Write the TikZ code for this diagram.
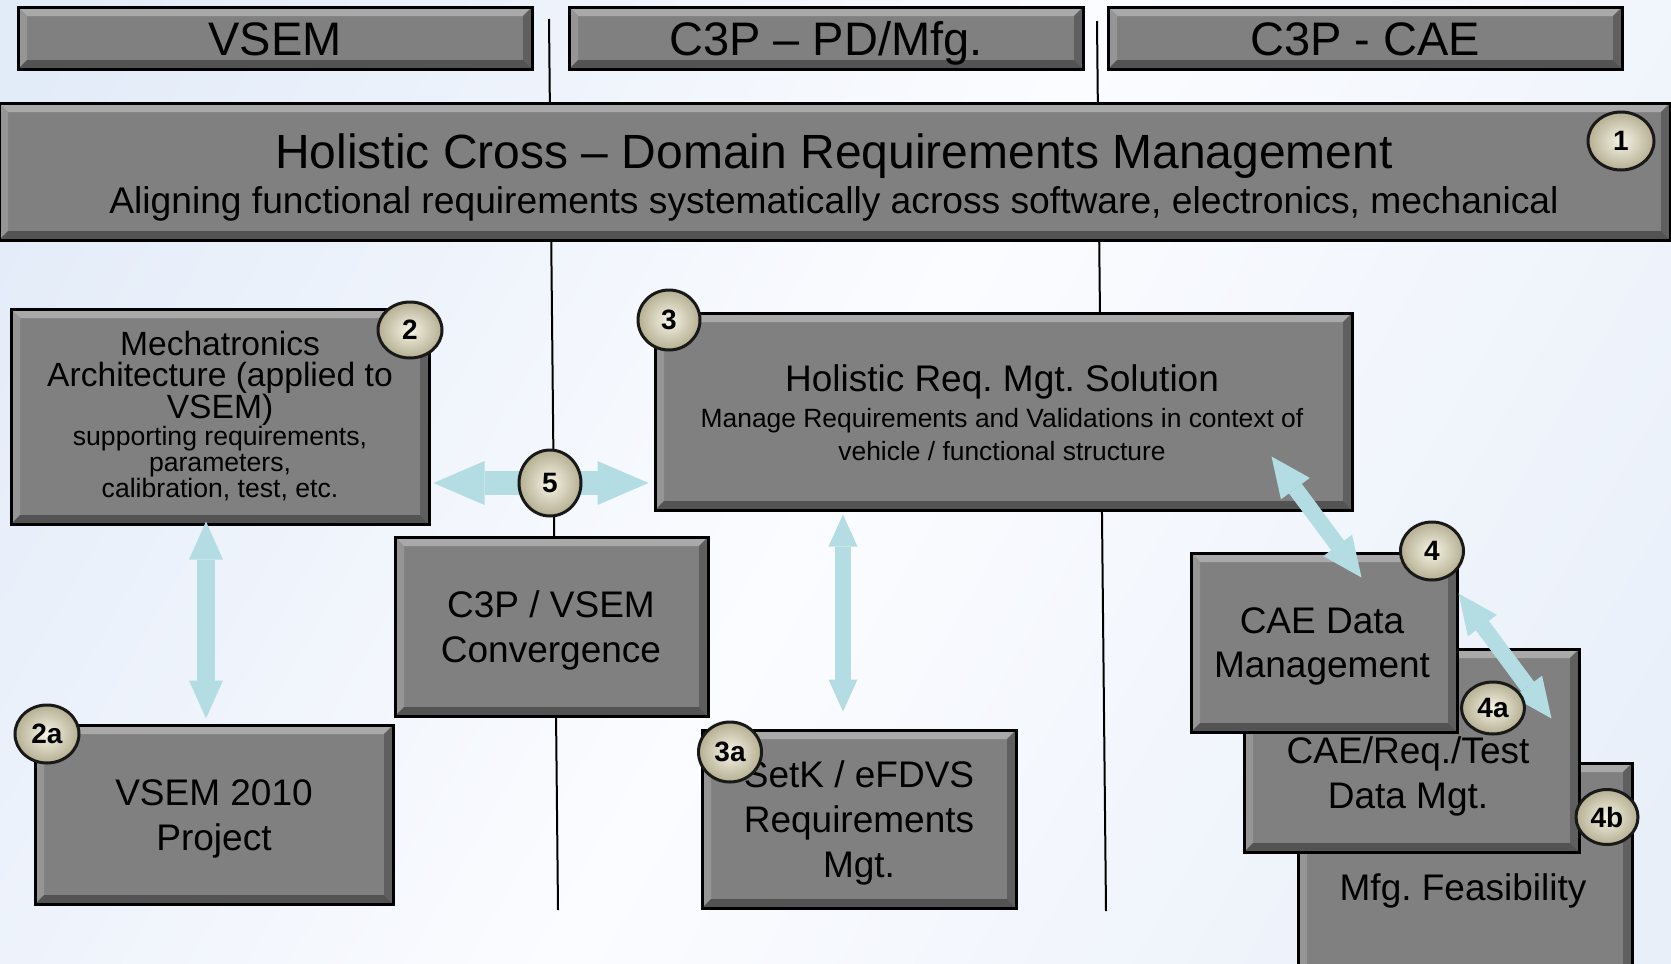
\documentclass[tikz,border=0pt]{standalone}
\usepackage{fontspec}
\setmainfont{Liberation Sans}
\usetikzlibrary{arrows.meta,calc,shapes.geometric}

\definecolor{face}{HTML}{808080}
\definecolor{bevtop}{HTML}{A9A9A9}
\definecolor{bevleft}{HTML}{959595}
\definecolor{bevright}{HTML}{5F5F5F}
\definecolor{bevbot}{HTML}{535353}
\definecolor{arrowc}{HTML}{B3DDE2}
\definecolor{ballin}{HTML}{F6F4E6}
\definecolor{ballout}{HTML}{B5AF92}
\definecolor{bgA}{HTML}{E2EBF8}
\definecolor{bgB}{HTML}{FBFCFF}
\definecolor{bgC}{HTML}{E8EFF9}

\newcommand\bevw{4.5pt}
\newcommand\fsz[2]{\fontsize{#1}{#2}\selectfont}

\tikzset{
  panel/.style={rectangle, draw=black, line width=1.5pt, fill=face, inner sep=0pt,
    path picture={
      \coordinate (pSW) at (path picture bounding box.south west);
      \coordinate (pNE) at (path picture bounding box.north east);
      \coordinate (pNW) at (pSW |- pNE);
      \coordinate (pSE) at (pNE |- pSW);
      \fill[bevtop] (pNW) -- (pNE) -- ($(pNE)+(-\bevw,-\bevw)$) -- ($(pNW)+(\bevw,-\bevw)$) -- cycle;
      \fill[bevleft] (pNW) -- (pSW) -- ($(pSW)+(\bevw,\bevw)$) -- ($(pNW)+(\bevw,-\bevw)$) -- cycle;
      \fill[bevright] (pNE) -- (pSE) -- ($(pSE)+(-\bevw,\bevw)$) -- ($(pNE)+(-\bevw,-\bevw)$) -- cycle;
      \fill[bevbot] (pSW) -- (pSE) -- ($(pSE)+(-\bevw,\bevw)$) -- ($(pSW)+(\bevw,\bevw)$) -- cycle;
    }},
  ball/.style={ellipse, draw=black!90, line width=1.5pt, inner sep=0pt,
    inner color=ballin, outer color=ballout, font=\bfseries\fsz{14pt}{14pt}},
  % multi-line texts sit on the baseline of their last line
  txt/.style={anchor=base, inner sep=0pt, align=center},
  divider/.style={draw=black, line width=1pt},
  fat/.style n args={3}{draw=arrowc, line width=#1,
    {Triangle[width=#2,length=#3,line width=0pt]}-{Triangle[width=#2,length=#3,line width=0pt]}},
}

\begin{document}
\frenchspacing
\begin{tikzpicture}[x=0.5pt, y=-0.5pt]
  \useasboundingbox (0,0) rectangle (1671,964);
  \clip (0,0) rectangle (1671,964);
  \shade[left color=bgA, right color=bgC, middle color=bgB, shading angle=60]
    (-200,-200) rectangle (1871,1164);

  % swimlane dividers
  \coordinate (l1top) at (549,19);
  \coordinate (l1bot) at (558,910);
  \coordinate (l2top) at (1097,21);
  \coordinate (l2bot) at (1106,911);
  \draw[divider] (l1top) -- (l1bot);
  \draw[divider] (l2top) -- (l2bot);

  % lane headers
  \node[panel, minimum width=257pt, minimum height=31pt] (hVSEM) at (275,38) {};
  \node[panel, minimum width=257pt, minimum height=31pt] (hPD) at (826,38) {};
  \node[panel, minimum width=257pt, minimum height=31pt] (hCAE) at (1365,38) {};
  \node[txt, font=\fsz{23.5pt}{28pt}] (tVSEM) at (275,55) {VSEM};
  \node[txt, font=\fsz{23.5pt}{28pt}] (tPD) at (826,55) {C3P – PD/Mfg.};
  \node[txt, font=\fsz{23.5pt}{28pt}] (tCAE) at (1365,55) {C3P - CAE};

  % banner
  \node[panel, minimum width=835.5pt, minimum height=68.5pt] (banner) at (834.5,171.5) {};
  \node[txt, font=\fsz{24pt}{28pt}] (bTitle) at (834,168) {Holistic Cross – Domain Requirements Management};
  \node[txt, font=\fsz{18.6pt}{22pt}] (bSub) at (834,213) {Aligning functional requirements systematically across software, electronics, mechanical};

  % main boxes
  \node[panel, minimum width=209pt, minimum height=107.5pt] (box2) at (220,416.5) {};
  \node[panel, minimum width=348.5pt, minimum height=98.5pt] (box3) at (1003.5,411.5) {};
  \node[panel, minimum width=156.5pt, minimum height=89.5pt] (conv) at (551.5,626.5) {};
  \node[panel, minimum width=179pt, minimum height=89.5pt] (box2a) at (214,814.5) {};
  \node[panel, minimum width=157pt, minimum height=89pt] (setk) at (859,819) {};
  \node[panel, minimum width=167pt, minimum height=108.5pt] (mfg) at (1465,871.5) {};
  \node[panel, minimum width=167.5pt, minimum height=101.5pt] (caereq) at (1411.5,750.5) {};
  \node[panel, minimum width=133pt, minimum height=89.5pt] (cae) at (1324,642.5) {};

  % box texts
  \node[txt, font=\fsz{16.8pt}{15.75pt}] (t2a) at (220,418) {Mechatronics\\Architecture (applied to\\VSEM)};
  \node[txt, font=\fsz{13.3pt}{13pt}] (t2b) at (220,497) {supporting requirements,\\parameters,\\calibration, test, etc.};
  \node[txt, font=\fsz{18.5pt}{22pt}] (t3a) at (1002,391) {Holistic Req. Mgt. Solution};
  \node[txt, font=\fsz{13.2pt}{16.5pt}] (t3b) at (1002,460) {Manage Requirements and Validations in context of\\vehicle / functional structure};
  \node[txt, font=\fsz{18.5pt}{22.5pt}] (tconv) at (551,662) {C3P / VSEM\\Convergence};
  \node[txt, font=\fsz{18.5pt}{22.5pt}] (t2aa) at (214,850) {VSEM 2010\\Project};
  \node[txt, font=\fsz{18.5pt}{22.5pt}] (tsetk) at (859,877) {SetK / eFDVS\\Requirements\\Mgt.};
  \node[txt, font=\fsz{18.5pt}{22.5pt}] (tmfg) at (1463,900) {Mfg. Feasibility};
  \node[txt, font=\fsz{18.5pt}{22.5pt}] (tcaereq) at (1408,808) {CAE/Req./Test\\Data Mgt.};
  \node[txt, font=\fsz{18.5pt}{22pt}] (tcae) at (1322,677) {CAE Data\\Management};

  % connecting arrows
  \coordinate (c5pos) at (550,483);
  \draw[fat={12pt}{22pt}{25.5pt}, shorten <=1.5pt, shorten >=2.5pt] (box2.east |- c5pos) -- (box3.west |- c5pos);
  \draw[fat={9pt}{17pt}{19pt}, shorten <=-2pt, shorten >=2.5pt] ([xshift=-7pt]box2.south) -- ([xshift=-4pt]box2a.north);
  \draw[fat={8pt}{14.5pt}{16pt}, shorten <=1.5pt, shorten >=8.5pt] ([xshift=-80.25pt]box3.south) -- ([xshift=-8pt]setk.north);
  \draw[fat={8pt}{18pt}{20pt}] ($(box3.south east)+(-82,-55)$) -- ($(cae.north west)+(172,26)$);
  \draw[fat={8pt}{18pt}{20pt}] ($(cae.north east)+(0,42)$) -- ($(caereq.north east)+(-29,71)$);

  % number markers
  \node[ball, minimum width=33pt, minimum height=29pt] (c1) at (1621,141) {1};
  \node[ball, minimum width=32pt, minimum height=28pt] (c2) at (410,330) {2};
  \node[ball, minimum width=31pt, minimum height=30pt] (c3) at (669,320) {3};
  \node[ball, minimum width=31pt, minimum height=33pt] (c5) at (c5pos) {5};
  \node[ball, minimum width=32pt, minimum height=29pt] (c2a) at (47,734) {2a};
  \node[ball, minimum width=31.5pt, minimum height=30pt] (c3a) at (730,752) {3a};
  \node[ball, minimum width=31.5pt, minimum height=29pt] (c4) at (1432,551) {4};
  \node[ball, minimum width=31.5pt, minimum height=26pt] (c4a) at (1493,708) {4a};
  \node[ball, minimum width=31pt, minimum height=27.5pt] (c4b) at (1607,817) {4b};
\end{tikzpicture}
\end{document}
